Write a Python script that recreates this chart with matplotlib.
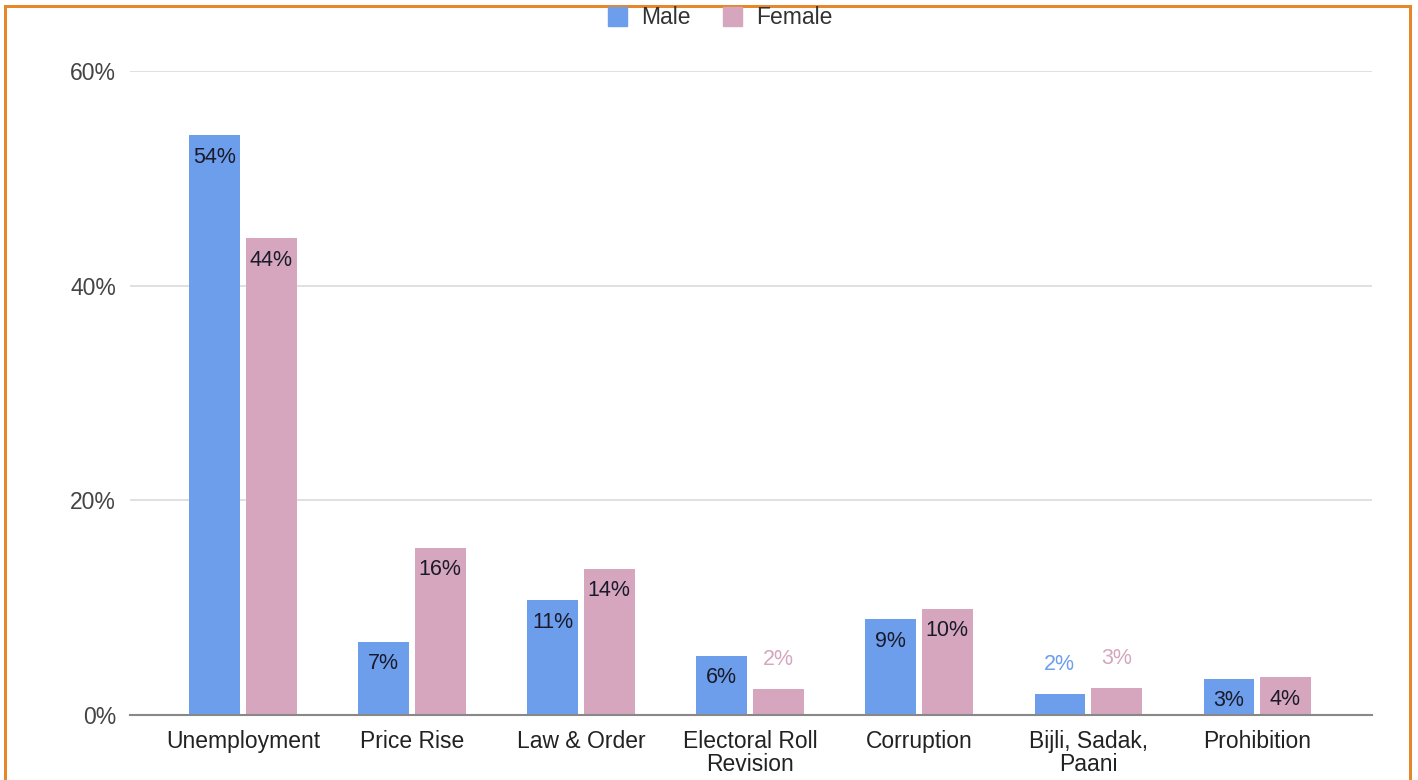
import matplotlib
matplotlib.use("Agg")
import matplotlib.pyplot as plt
from matplotlib.lines import Line2D
from matplotlib.patches import Patch
import numpy as np

categories = ["Unemployment", "Price Rise", "Law & Order", "Electoral Roll\nRevision",
              "Corruption", "Bijli, Sadak,\nPaani", "Prohibition"]
male = [54.0, 6.8, 10.7, 5.5, 8.9, 2.0, 3.4]
female = [44.4, 15.6, 13.6, 2.4, 9.9, 2.5, 3.5]
male_labels = ["54%", "7%", "11%", "6%", "9%", "2%", "3%"]
female_labels = ["44%", "16%", "14%", "2%", "10%", "3%", "4%"]
yticks = [0, 20, 40, 60]
ytick_labels = ["0%", "20%", "40%", "60%"]

plt.rcParams['font.family'] = ['Liberation Sans', 'DejaVu Sans']

W, H = 1418, 780
fig = plt.figure(figsize=(W / 100, H / 100), dpi=100)
fig.patch.set_facecolor("white")

left, right, top, bottom = 130, 1372, 71, 715
ax = fig.add_axes([left / W, 1 - bottom / H, (right - left) / W, (bottom - top) / H])

male_c = "#6d9eeb"
female_c = "#d5a6bd"
x = np.arange(len(categories))
bw = 0.30
off = 0.167
bm = ax.bar(x - off, male, bw, color=male_c, zorder=3)
bf = ax.bar(x + off, female, bw, color=female_c, zorder=3)

ax.set_xlim(-0.669, 6.68)
ax.set_ylim(0, 60)
ax.set_yticks(yticks)
ax.set_yticklabels(ytick_labels, fontsize=16.5, color="#444444")
ax.set_xticks(x)
ax.set_xticklabels(categories, fontsize=16.5, color="#222222", linespacing=1.0)
ax.tick_params(axis="both", length=0)
ax.tick_params(axis="y", pad=10)
ax.tick_params(axis="x", pad=11)
for s in ["top", "right", "left"]:
    ax.spines[s].set_visible(False)
ax.spines["bottom"].set_color("#888888")
ax.spines["bottom"].set_linewidth(1.5)
ax.spines["bottom"].set_zorder(4)
ax.yaxis.grid(True, color="#dadada", linewidth=1.2, zorder=0)
ax.set_axisbelow(True)

threshold = 2.8
for bars, labels, col in [(bm, male_labels, male_c), (bf, female_labels, female_c)]:
    for rect, lab in zip(bars, labels):
        h = rect.get_height()
        cx = rect.get_x() + rect.get_width() / 2
        if h >= threshold:
            ax.annotate(lab, (cx, h), xytext=(0, -14), textcoords="offset points",
                        ha="center", va="center_baseline", fontsize=15.5, color="#1a1a2a", zorder=5)
        else:
            ax.annotate(lab, (cx, h), xytext=(0, 23), textcoords="offset points",
                        ha="center", va="center_baseline", fontsize=15.5, color=col, zorder=5)

handles = [Patch(color=male_c, label="Male"), Patch(color=female_c, label="Female")]
fig.legend(handles=handles, loc="center", bbox_to_anchor=(720 / W, 1 - 18 / H),
           ncol=2, frameon=False, fontsize=16.5, handlelength=0.85, handleheight=0.85,
           columnspacing=1.4, handletextpad=0.6, labelcolor="#333333")

orange = "#e8872a"
lw = 3 * 72 / 100
fig.add_artist(Line2D([4.5 / W, 1409.5 / W], [1 - 5.5 / H, 1 - 5.5 / H], color=orange, lw=lw,
                      transform=fig.transFigure, solid_capstyle="projecting"))
fig.add_artist(Line2D([4.5 / W, 4.5 / W], [0, 1 - 5.5 / H], color=orange, lw=lw,
                      transform=fig.transFigure))
fig.add_artist(Line2D([1409.5 / W, 1409.5 / W], [0, 1 - 5.5 / H], color=orange, lw=lw,
                      transform=fig.transFigure))

fig.savefig("out.png", dpi=100, facecolor="white")
